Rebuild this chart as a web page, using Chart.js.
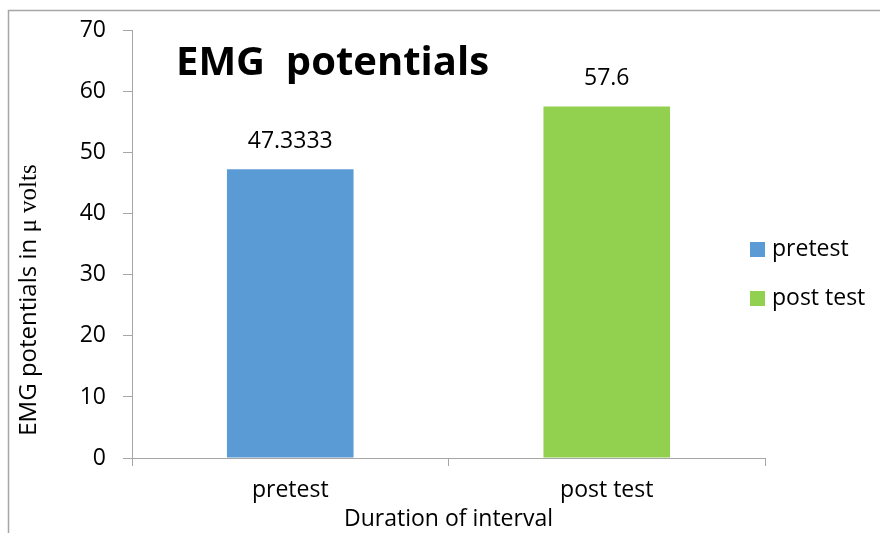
<!DOCTYPE html>
<html>
<head>
<meta charset="utf-8">
<script src="https://cdn.jsdelivr.net/npm/chart.js@4/dist/chart.umd.min.js"></script>
<style>
  html, body { margin: 0; padding: 0; background: #fff; }
  #wrap { width: 880px; height: 533px; position: relative; }
</style>
</head>
<body>
<div id="wrap"><canvas id="emgChart"></canvas></div>
<script>
// EMG potentials - pretest vs post test

const categories = ['pretest', 'post test'];
const emgValues = [47.3333, 57.6];
const valueLabels = ['47.3333', '57.6'];
const barColors = ['#5b9bd5', '#92d050'];
const yMin = 0;
const yMax = 70;
const yStep = 10;

const chartTitle = 'EMG  potentials';
const xTitle = 'Duration of interval';
const yTitleSans = 'EMG potentials in ';
const yTitleSerif = '\u03bc volts';

const SANS = '"Open Sans", "Liberation Sans", sans-serif';
const SERIF = '"Liberation Serif", "DejaVu Serif", serif';

// extra drawing: outer frame, title, value labels, y title, legend
const extras = {
    id: 'extras',
    afterDraw(chart) {
        const ctx = chart.ctx;
        const area = chart.chartArea;
        ctx.save();

        // outer frame (cut off at right and bottom like the source)
        ctx.strokeStyle = '#a6a6a6';
        ctx.lineWidth = 1.5;
        ctx.beginPath();
        ctx.moveTo(8.5, 540);
        ctx.lineTo(8.5, 10.5);
        ctx.lineTo(890, 10.5);
        ctx.stroke();

        // title inside the plot
        ctx.fillStyle = '#000';
        ctx.font = 'bold 40px ' + SANS;
        ctx.textAlign = 'left';
        ctx.textBaseline = 'alphabetic';
        ctx.fillText(chartTitle, area.left + 44, 75);

        // value labels above bars
        const meta = chart.getDatasetMeta(0);
        ctx.font = '23px ' + SANS;
        ctx.textAlign = 'center';
        ctx.textBaseline = 'middle';
        meta.data.forEach((bar, i) => {
            ctx.fillText(valueLabels[i], bar.x, bar.y - 28);
        });

        // y axis title, mixed fonts
        ctx.translate(29, 300);
        ctx.rotate(-Math.PI / 2);
        ctx.font = '24px ' + SANS;
        const w1 = ctx.measureText(yTitleSans).width;
        ctx.font = '25px ' + SERIF;
        const w2 = ctx.measureText(yTitleSerif).width;
        let x0 = -(w1 + w2) / 2;
        ctx.textAlign = 'left';
        ctx.font = '24px ' + SANS;
        ctx.fillText(yTitleSans, x0, 0);
        ctx.font = '25px ' + SERIF;
        ctx.fillText(yTitleSerif, x0 + w1, 0);
        ctx.setTransform(1, 0, 0, 1, 0, 0);

        // legend on the right
        ctx.font = '23px ' + SANS;
        ctx.textAlign = 'left';
        categories.forEach((name, i) => {
            const cy = 249 + i * 49;
            ctx.fillStyle = barColors[i];
            ctx.fillRect(750, cy - 7, 15, 15);
            ctx.fillStyle = '#000';
            ctx.fillText(name, 772, cy);
        });

        ctx.restore();
    }
};

new Chart(document.getElementById('emgChart'), {
    type: 'bar',
    data: {
        labels: categories,
        datasets: [{
            label: 'EMG potentials',
            data: emgValues,
            backgroundColor: barColors,
            borderWidth: 0,
            barPercentage: 0.4,
            categoryPercentage: 1.0
        }]
    },
    options: {
        responsive: true,
        maintainAspectRatio: false,
        animation: false,
        layout: {
            padding: { top: 20, right: 115, bottom: 0, left: 0 }
        },
        plugins: {
            legend: { display: false },
            tooltip: { enabled: false },
            title: { display: false }
        },
        scales: {
            x: {
                grid: {
                    offset: true,
                    drawOnChartArea: false,
                    drawTicks: true,
                    tickLength: 8,
                    color: '#a6a6a6'
                },
                border: { color: '#a6a6a6', width: 1 },
                ticks: {
                    color: '#000',
                    font: { family: SANS, size: 23 },
                    padding: 11
                },
                title: {
                    display: true,
                    text: xTitle,
                    color: '#000',
                    font: { family: SANS, size: 23 },
                    padding: { top: 0, bottom: 0 }
                },
                afterFit(scale) { scale.height = 75; }
            },
            y: {
                min: yMin,
                max: yMax,
                grid: {
                    drawOnChartArea: false,
                    drawTicks: true,
                    tickLength: 9,
                    color: '#a6a6a6'
                },
                border: { color: '#a6a6a6', width: 1 },
                ticks: {
                    stepSize: yStep,
                    color: '#000',
                    font: { family: SANS, size: 23 },
                    padding: 17
                },
                afterFit(scale) { scale.width = 132; }
            }
        }
    },
    plugins: [extras]
});
</script>
</body>
</html>
